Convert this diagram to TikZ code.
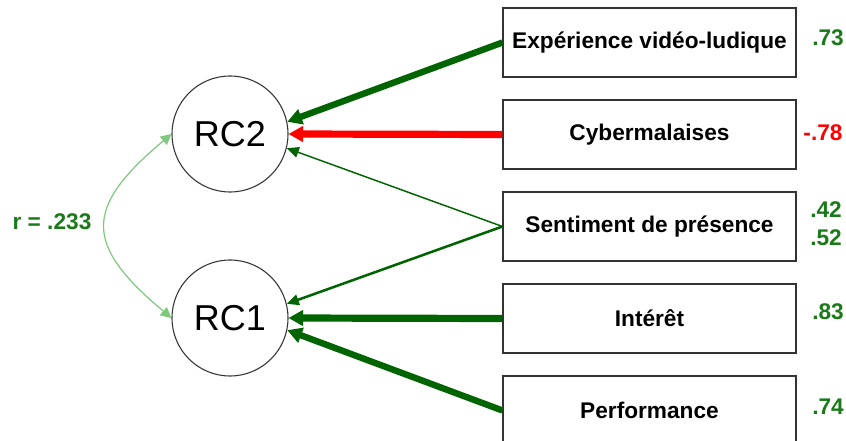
\documentclass[tikz,border=0pt]{standalone}
\usepackage{fontspec}
\setmainfont{Liberation Sans}
\usepackage{xcolor}
\usetikzlibrary{arrows.meta}
\definecolor{loadgreen}{RGB}{0,100,0}
\definecolor{valgreen}{RGB}{26,122,26}
\definecolor{loadred}{RGB}{255,0,0}
\definecolor{corgreen}{RGB}{125,200,125}

\begin{document}
\begin{tikzpicture}[x=0.75pt,y=0.75pt,
  item/.style={draw=black!80,line width=0.8pt,minimum width=219.75pt,minimum height=51.75pt,inner sep=0pt,font=\fontsize{17}{20}\selectfont\bfseries},
  factor/.style={draw=black!80,circle,line width=0.8pt,minimum size=87pt,inner sep=0pt,font=\fontsize{27}{30}\selectfont},
  val/.style={font=\fontsize{17}{20}\selectfont\bfseries,text=valgreen},
  big/.style={-{Triangle[length=11pt,width=11.5pt]},line width=5pt,draw=loadgreen},
  small/.style={-{Triangle[length=9pt,width=8pt]},draw=loadgreen}]
\useasboundingbox (0,0) rectangle (846,440);
% factors
\node[factor] (rc2) at (230,306) {RC2};
\node[factor] (rc1) at (230,122) {RC1};
% items
\node[item] (exp) at (649.5,397.5) {Expérience vidéo-ludique};
\node[item] (cyb) at (649.5,305.5) {Cybermalaises};
\node[item] (sen) at (649.5,213.5) {Sentiment de présence};
\node[item] (int) at (649.5,121.5) {Intérêt};
\node[item] (per) at (649.5,29.5) {Performance};
% loadings
\draw[big,line width=4.8pt] (exp.west) -- (rc2.12);
\draw[big,draw=loadred,line width=5.4pt] (cyb.west) -- (rc2.0);
\draw[small,line width=1.1pt] (sen.west) -- (rc2.-14);
\draw[small,line width=1.9pt] (sen.west) -- (rc1.14);
\draw[big,line width=5.4pt] (int.west) -- (rc1.0);
\draw[big,line width=4.8pt] (per.west) -- (rc1.-12);
% correlation
\draw[{Triangle[length=8pt,width=8pt]}-{Triangle[length=8pt,width=8pt]},draw=corgreen,line width=0.9pt]
  (rc2.west) to[out=220,in=140,looseness=1.6] (rc1.west);
\node[val] (cor) at (52,218) {r = .233};
% values
\node[val] (v1) at (828,402) {.73};
\node[val,text=loadred] (v2) at (823,307) {-.78};
\node[val] (v3) at (826,230) {.42};
\node[val] (v4) at (826,202) {.52};
\node[val] (v5) at (828,128) {.83};
\node[val] (v6) at (828,33) {.74};
\end{tikzpicture}
\end{document}
